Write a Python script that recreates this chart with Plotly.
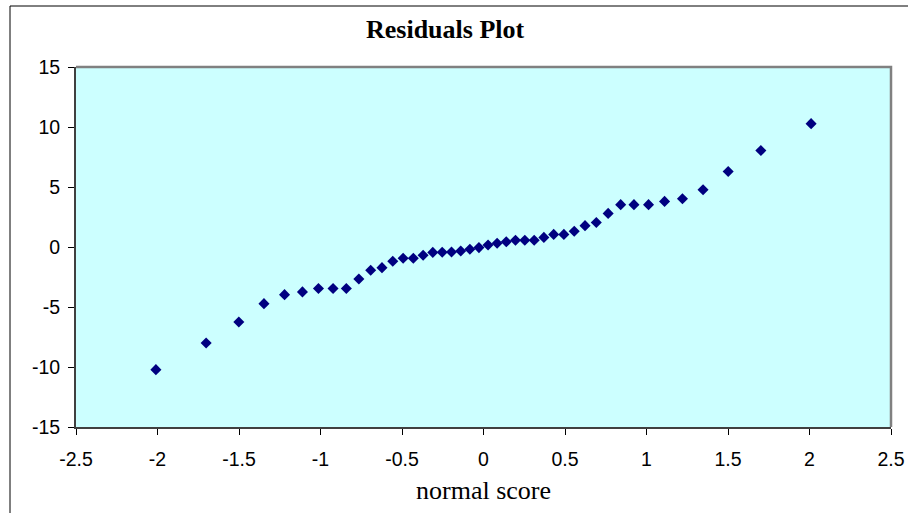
import plotly.graph_objects as go

# Normal scores (expected standard-normal quantiles) for 44 ordered residuals
normal_score = [
    -2.0098, -1.7016, -1.5011, -1.3469, -1.2206, -1.1108, -1.0125, -0.9230,
    -0.8416, -0.7647, -0.6921, -0.6229, -0.5566, -0.4930, -0.4307, -0.3704,
    -0.3111, -0.2533, -0.1962, -0.1397, -0.0836, -0.0279,
    0.0279, 0.0836, 0.1397, 0.1962, 0.2533, 0.3111, 0.3704, 0.4307,
    0.4930, 0.5566, 0.6229, 0.6921, 0.7647, 0.8416, 0.9230, 1.0125,
    1.1108, 1.2206, 1.3469, 1.5011, 1.7016, 2.0098,
]

# Ordered residuals
residuals = [
    -10.22, -8.00, -6.25, -4.72, -3.97, -3.74, -3.46, -3.46,
    -3.46, -2.66, -1.94, -1.72, -1.19, -0.94, -0.94, -0.69,
    -0.45, -0.43, -0.41, -0.33, -0.19, -0.05,
    0.17, 0.31, 0.43, 0.56, 0.56, 0.56, 0.80, 1.05,
    1.05, 1.31, 1.78, 2.04, 2.80, 3.53, 3.53, 3.53,
    3.80, 4.02, 4.77, 6.29, 8.04, 10.28,
]

x_tick_vals = [-2.5, -2, -1.5, -1, -0.5, 0, 0.5, 1, 1.5, 2, 2.5]
x_tick_text = ["-2.5", "-2", "-1.5", "-1", "-0.5", "0", "0.5", "1", "1.5", "2", "2.5"]
y_tick_vals = [-15, -10, -5, 0, 5, 10, 15]
y_tick_text = ["-15", "-10", "-5", "0", "5", "10", "15"]

W, H = 908, 513
L, R, T, B = 76, 17, 67, 86
PW, PH = W - L - R, H - T - B

SANS = "Liberation Sans, Arial, sans-serif"
SERIF = "Liberation Serif, Times New Roman, serif"

fig = go.Figure()
fig.add_trace(go.Scatter(
    x=normal_score, y=residuals, mode="markers",
    marker=dict(symbol="diamond", size=8.5, color="#000080", line=dict(width=0)),
    showlegend=False, hoverinfo="x+y",
))

axis_common = dict(
    showgrid=False, zeroline=False, showline=True, linecolor="#404040", linewidth=2,
    ticks="outside", ticklen=6, tickwidth=1, tickcolor="#000000",
    tickfont=dict(family=SANS, size=19.5, color="#000000"),
)

fig.update_layout(
    width=W, height=H,
    margin=dict(l=L, r=R, t=T, b=B, autoexpand=False),
    paper_bgcolor="#FFFFFF", plot_bgcolor="#CCFFFF",
    xaxis=dict(range=[-2.5, 2.5], tickmode="array", tickvals=x_tick_vals,
               ticktext=x_tick_text, ticklabelstandoff=8, **axis_common),
    yaxis=dict(range=[-15, 15], tickmode="array", tickvals=y_tick_vals,
               ticktext=y_tick_text, ticklabelstandoff=4, **axis_common),
    shapes=[
        # outer chart frame
        dict(type="rect", xref="paper", yref="paper",
             x0=(10 - L) / PW, x1=1.2, y0=-0.4, y1=1 + (T - 6) / PH,
             line=dict(color="#000000", width=1), fillcolor="rgba(0,0,0,0)", layer="below"),
        # plot-area frame (top and right edges)
        dict(type="path", xref="paper", yref="paper",
             path="M 0 1 L 1 1 L 1 0", line=dict(color="#808080", width=2.5), layer="above"),
    ],
    annotations=[
        dict(text="<b>Residuals Plot</b>", xref="paper", yref="paper",
             x=(445 - L) / PW, y=1 + (T - 30) / PH, xanchor="center", yanchor="middle",
             showarrow=False, font=dict(family=SERIF, size=26, color="#000000")),
        dict(text="normal score", xref="paper", yref="paper",
             x=0.5, y=-(490 - (T + PH)) / PH, xanchor="center", yanchor="middle",
             showarrow=False, font=dict(family=SERIF, size=26, color="#000000")),
    ],
)

fig.write_html("out.html")
